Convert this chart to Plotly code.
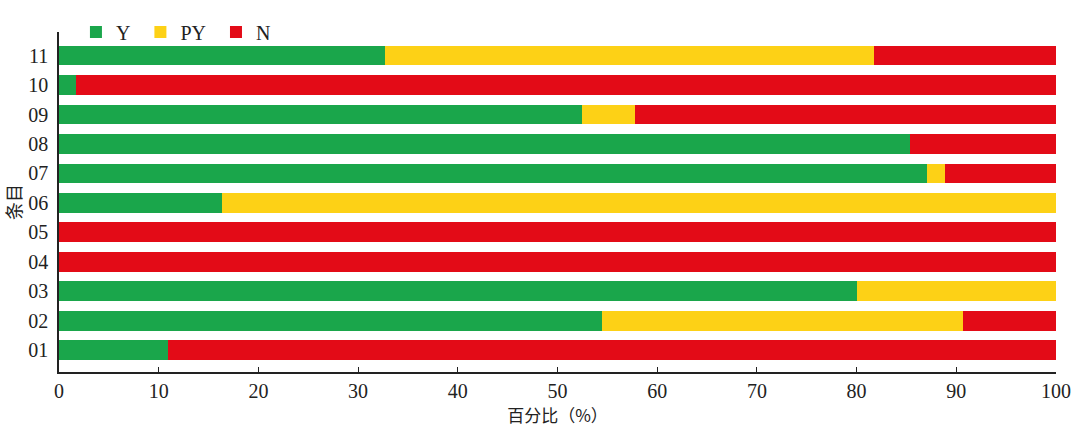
import plotly.graph_objects as go

categories = ["01", "02", "03", "04", "05", "06", "07", "08", "09", "10", "11"]
y_vals = [10.9, 54.5, 80.0, 0, 0, 16.3, 87.1, 85.4, 52.5, 1.7, 32.7]
py_vals = [0, 36.2, 20.0, 0, 0, 83.7, 1.8, 0, 5.3, 0, 49.0]
n_vals = [round(100 - a - b, 1) for a, b in zip(y_vals, py_vals)]
x_ticks = [0, 10, 20, 30, 40, 50, 60, 70, 80, 90, 100]
series_names = ["Y", "PY", "N"]

colors = ["#1AA64B", "#FDD116", "#E30B17"]

fig = go.Figure()
for name, vals, col in zip(series_names, [y_vals, py_vals, n_vals], colors):
    fig.add_trace(go.Bar(y=categories, x=vals, name=name + "\u00a0", orientation="h",
                         marker=dict(color=col, line=dict(width=0))))

serif = "Liberation Serif"
cjk = "Noto Sans CJK SC"
fig.update_layout(
    barmode="stack",
    bargap=0.33,
    width=1080, height=434,
    margin=dict(l=59, r=24, t=28, b=62),
    plot_bgcolor="white", paper_bgcolor="white",
    font=dict(family=serif, size=18, color="#222222"),
    showlegend=True,
    legend=dict(orientation="h", x=0.017, y=1.0, xanchor="left", yanchor="middle",
                traceorder="normal", font=dict(family=serif, size=20, color="#222222"),
                bgcolor="rgba(0,0,0,0)"),
    xaxis=dict(range=[0, 100], tickvals=x_ticks, ticks="inside", ticklen=5,
               tickcolor="#222222", showline=True, linecolor="#222222", linewidth=1.5,
               showgrid=False, zeroline=False, automargin=False,
               tickfont=dict(family=serif, size=20),
               title=dict(text="百分比（%）", font=dict(family=cjk, size=17), standoff=6)),
    yaxis=dict(categoryorder="array", categoryarray=categories, range=[-0.74, 10.8],
               showline=True, linecolor="#222222", linewidth=1.5, ticks="",
               showgrid=False, zeroline=False, automargin=False,
               tickfont=dict(family=serif, size=20),
               ticklabelstandoff=5,
               title=dict(text="条目", font=dict(family=cjk, size=18), standoff=6)),
)
fig.write_html("out.html")
